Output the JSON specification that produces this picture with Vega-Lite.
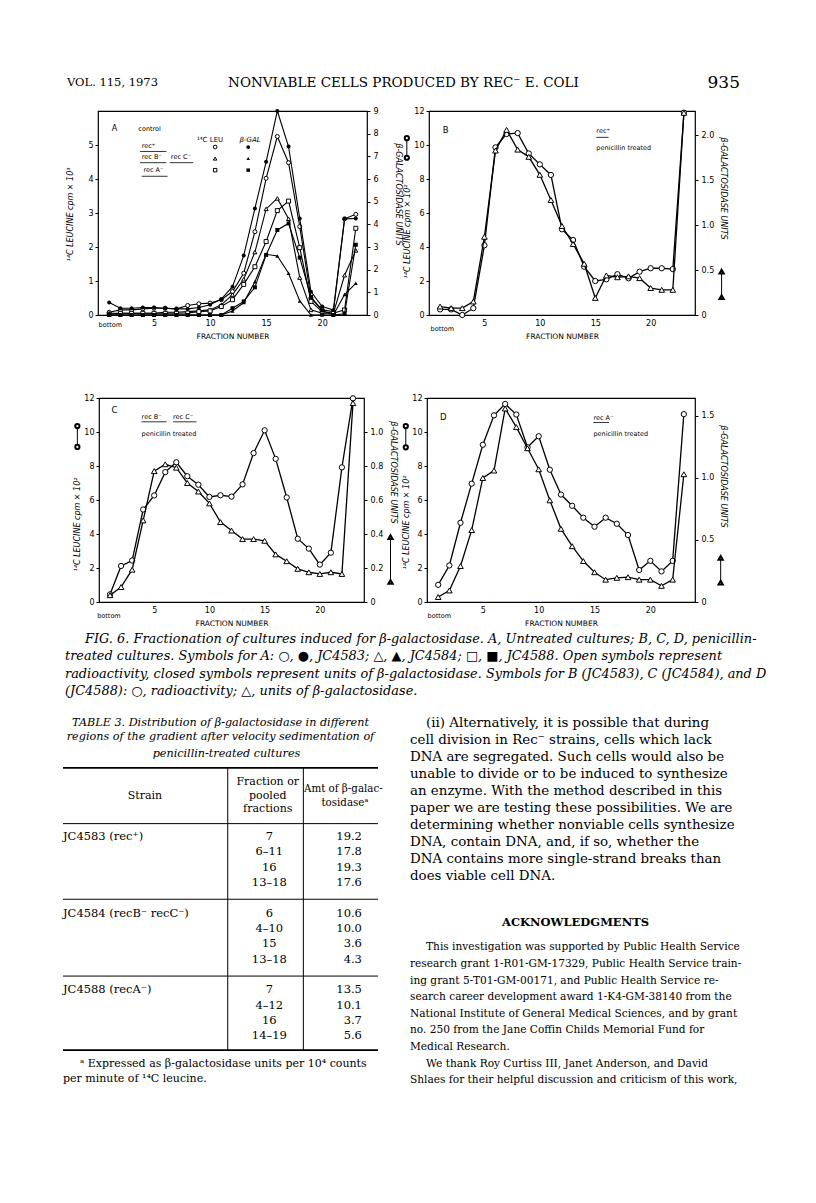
{
"$schema": "https://vega.github.io/schema/vega-lite/v6.json",
"autosize": {"type": "none"},
"padding": {"left": 0, "top": 0, "right": 816, "bottom": 1203},
"background": "white",
"spacing": 0,
"bounds": "full",
"config": {
  "view": {"stroke": null},
  "axis": {"grid": false, "domain": false, "tickColor": "black", "tickSize": 3, "tickWidth": 1, "tickCount": 20, "labelColor": "black", "labelFont": "DejaVu Sans", "labelFontSize": 8, "labelPadding": 2, "titleColor": "black", "titleFont": "DejaVu Sans", "titleFontSize": 8, "titleFontStyle": "italic", "titleFontWeight": "normal"},
  "text": {"color": "black", "font": "DejaVu Sans"}
},
"datasets": {
  "header": [
    {"part": "left", "t": "VOL. 115, 1973"},
    {"part": "center", "t": "NONVIABLE CELLS PRODUCED BY REC⁻ E. COLI"},
    {"part": "right", "t": "935"}
  ],
  "A": [
    {"fraction":1,"strain":"rec+","leu":0.08,"gal":0.55},{"fraction":2,"strain":"rec+","leu":0.15,"gal":0.3},{"fraction":3,"strain":"rec+","leu":0.15,"gal":0.3},{"fraction":4,"strain":"rec+","leu":0.18,"gal":0.33},{"fraction":5,"strain":"rec+","leu":0.2,"gal":0.33},{"fraction":6,"strain":"rec+","leu":0.2,"gal":0.3},{"fraction":7,"strain":"rec+","leu":0.18,"gal":0.27},{"fraction":8,"strain":"rec+","leu":0.28,"gal":0.27},{"fraction":9,"strain":"rec+","leu":0.33,"gal":0.33},{"fraction":10,"strain":"rec+","leu":0.35,"gal":0.45},{"fraction":11,"strain":"rec+","leu":0.45,"gal":0.7},{"fraction":12,"strain":"rec+","leu":0.69,"gal":1.25},{"fraction":13,"strain":"rec+","leu":1.23,"gal":2.62},{"fraction":14,"strain":"rec+","leu":2.45,"gal":4.7},{"fraction":15,"strain":"rec+","leu":4.02,"gal":6.76},{"fraction":16,"strain":"rec+","leu":5.25,"gal":9.0},{"fraction":17,"strain":"rec+","leu":4.48,"gal":7.43},{"fraction":18,"strain":"rec+","leu":2.6,"gal":4.26},{"fraction":19,"strain":"rec+","leu":0.5,"gal":1.03},{"fraction":20,"strain":"rec+","leu":0.15,"gal":0.37},{"fraction":21,"strain":"rec+","leu":0.1,"gal":0.22},{"fraction":22,"strain":"rec+","leu":2.83,"gal":4.24},{"fraction":23,"strain":"rec+","leu":2.96,"gal":4.26},
    {"fraction":1,"strain":"recB recC","leu":0.05,"gal":0},{"fraction":2,"strain":"recB recC","leu":0.05,"gal":0},{"fraction":3,"strain":"recB recC","leu":0.05,"gal":0},{"fraction":4,"strain":"recB recC","leu":0.05,"gal":0},{"fraction":5,"strain":"recB recC","leu":0.05,"gal":0},{"fraction":6,"strain":"recB recC","leu":0.08,"gal":0},{"fraction":7,"strain":"recB recC","leu":0.08,"gal":0},{"fraction":8,"strain":"recB recC","leu":0.1,"gal":0},{"fraction":9,"strain":"recB recC","leu":0.12,"gal":0},{"fraction":10,"strain":"recB recC","leu":0.15,"gal":0},{"fraction":11,"strain":"recB recC","leu":0.3,"gal":0},{"fraction":12,"strain":"recB recC","leu":0.6,"gal":0.18},{"fraction":13,"strain":"recB recC","leu":1.05,"gal":0.55},{"fraction":14,"strain":"recB recC","leu":1.85,"gal":1.47},{"fraction":15,"strain":"recB recC","leu":3.12,"gal":2.68},{"fraction":16,"strain":"recB recC","leu":3.43,"gal":2.6},{"fraction":17,"strain":"recB recC","leu":2.83,"gal":1.84},{"fraction":18,"strain":"recB recC","leu":1.1,"gal":0.62},{"fraction":19,"strain":"recB recC","leu":0.15,"gal":0},{"fraction":20,"strain":"recB recC","leu":0.05,"gal":0},{"fraction":21,"strain":"recB recC","leu":0.05,"gal":0},{"fraction":22,"strain":"recB recC","leu":1.17,"gal":0.9},{"fraction":23,"strain":"recB recC","leu":1.9,"gal":1.4},
    {"fraction":1,"strain":"recA","leu":0.02,"gal":0},{"fraction":2,"strain":"recA","leu":0.05,"gal":0},{"fraction":3,"strain":"recA","leu":0.05,"gal":0},{"fraction":4,"strain":"recA","leu":0.05,"gal":0},{"fraction":5,"strain":"recA","leu":0.05,"gal":0},{"fraction":6,"strain":"recA","leu":0.05,"gal":0},{"fraction":7,"strain":"recA","leu":0.05,"gal":0},{"fraction":8,"strain":"recA","leu":0.06,"gal":0},{"fraction":9,"strain":"recA","leu":0.1,"gal":0},{"fraction":10,"strain":"recA","leu":0.12,"gal":0},{"fraction":11,"strain":"recA","leu":0.25,"gal":0},{"fraction":12,"strain":"recA","leu":0.45,"gal":0.3},{"fraction":13,"strain":"recA","leu":0.9,"gal":0.6},{"fraction":14,"strain":"recA","leu":1.42,"gal":1.22},{"fraction":15,"strain":"recA","leu":2.16,"gal":2.65},{"fraction":16,"strain":"recA","leu":3.07,"gal":3.75},{"fraction":17,"strain":"recA","leu":3.35,"gal":4.04},{"fraction":18,"strain":"recA","leu":1.98,"gal":2.53},{"fraction":19,"strain":"recA","leu":0.4,"gal":0.8},{"fraction":20,"strain":"recA","leu":0.1,"gal":0.2},{"fraction":21,"strain":"recA","leu":0.05,"gal":0},{"fraction":22,"strain":"recA","leu":0.15,"gal":0.05},{"fraction":23,"strain":"recA","leu":2.55,"gal":3.1}
  ],
  "B": [
    {"fraction":1,"cpm":0.33,"units":0.094},{"fraction":2,"cpm":0.33,"units":0.076},{"fraction":3,"cpm":0.0,"units":0.076},{"fraction":4,"cpm":0.4,"units":0.15},{"fraction":5,"cpm":4.1,"units":0.87},{"fraction":6,"cpm":9.86,"units":1.83},{"fraction":7,"cpm":10.65,"units":2.06},{"fraction":8,"cpm":10.7,"units":1.84},{"fraction":9,"cpm":9.5,"units":1.76},{"fraction":10,"cpm":8.86,"units":1.56},{"fraction":11,"cpm":8.24,"units":1.28},{"fraction":12,"cpm":5.04,"units":0.99},{"fraction":13,"cpm":4.41,"units":0.79},{"fraction":14,"cpm":2.84,"units":0.57},{"fraction":15,"cpm":2.0,"units":0.19},{"fraction":16,"cpm":2.1,"units":0.44},{"fraction":17,"cpm":2.4,"units":0.42},{"fraction":18,"cpm":2.16,"units":0.43},{"fraction":19,"cpm":2.55,"units":0.41},{"fraction":20,"cpm":2.75,"units":0.30},{"fraction":21,"cpm":2.75,"units":0.28},{"fraction":22,"cpm":2.7,"units":0.28},{"fraction":23,"cpm":11.9,"units":2.25}
  ],
  "C": [
    {"fraction":1,"cpm":0.45,"units":0.04},{"fraction":2,"cpm":2.12,"units":0.088},{"fraction":3,"cpm":2.44,"units":0.19},{"fraction":4,"cpm":5.44,"units":0.48},{"fraction":5,"cpm":6.27,"units":0.77},{"fraction":6,"cpm":7.64,"units":0.81},{"fraction":7,"cpm":8.22,"units":0.79},{"fraction":8,"cpm":7.4,"units":0.70},{"fraction":9,"cpm":6.9,"units":0.65},{"fraction":10,"cpm":6.18,"units":0.58},{"fraction":11,"cpm":6.28,"units":0.47},{"fraction":12,"cpm":6.2,"units":0.42},{"fraction":13,"cpm":6.92,"units":0.37},{"fraction":14,"cpm":8.76,"units":0.37},{"fraction":15,"cpm":10.1,"units":0.36},{"fraction":16,"cpm":8.42,"units":0.28},{"fraction":17,"cpm":6.15,"units":0.24},{"fraction":18,"cpm":3.72,"units":0.195},{"fraction":19,"cpm":3.14,"units":0.175},{"fraction":20,"cpm":2.2,"units":0.165},{"fraction":21,"cpm":2.9,"units":0.175},{"fraction":22,"cpm":7.92,"units":0.165},{"fraction":23,"cpm":11.98,"units":1.17}
  ],
  "D": [
    {"fraction":1,"cpm":1.01,"units":0.04},{"fraction":2,"cpm":2.15,"units":0.093},{"fraction":3,"cpm":4.66,"units":0.29},{"fraction":4,"cpm":6.96,"units":0.58},{"fraction":5,"cpm":9.25,"units":1.0},{"fraction":6,"cpm":10.98,"units":1.06},{"fraction":7,"cpm":11.65,"units":1.56},{"fraction":8,"cpm":11.03,"units":1.41},{"fraction":9,"cpm":9.1,"units":1.24},{"fraction":10,"cpm":9.75,"units":1.07},{"fraction":11,"cpm":7.78,"units":0.82},{"fraction":12,"cpm":6.32,"units":0.59},{"fraction":13,"cpm":5.66,"units":0.45},{"fraction":14,"cpm":4.96,"units":0.33},{"fraction":15,"cpm":4.43,"units":0.24},{"fraction":16,"cpm":4.96,"units":0.18},{"fraction":17,"cpm":4.6,"units":0.195},{"fraction":18,"cpm":3.94,"units":0.20},{"fraction":19,"cpm":1.88,"units":0.18},{"fraction":20,"cpm":2.42,"units":0.18},{"fraction":21,"cpm":1.8,"units":0.13},{"fraction":22,"cpm":2.42,"units":0.18},{"fraction":23,"cpm":11.05,"units":1.03}
  ],
  "table3": [
    {"strain":"JC4583 (rec⁺)","fraction":"7","amount":19.2,"row":0},
    {"strain":"","fraction":"6–11","amount":17.8,"row":1},
    {"strain":"","fraction":"16","amount":19.3,"row":2},
    {"strain":"","fraction":"13–18","amount":17.6,"row":3},
    {"strain":"JC4584 (recB⁻ recC⁻)","fraction":"6","amount":10.6,"row":5},
    {"strain":"","fraction":"4–10","amount":10.0,"row":6},
    {"strain":"","fraction":"15","amount":3.6,"row":7},
    {"strain":"","fraction":"13–18","amount":4.3,"row":8},
    {"strain":"JC4588 (recA⁻)","fraction":"7","amount":13.5,"row":10},
    {"strain":"","fraction":"4–12","amount":10.1,"row":11},
    {"strain":"","fraction":"16","amount":3.7,"row":12},
    {"strain":"","fraction":"14–19","amount":5.6,"row":13}
  ],
  "caption": [
    {"line":1,"indent":true,"text":"FIG. 6. Fractionation of cultures induced for β-galactosidase. A, Untreated cultures; B, C, D, penicillin-"},
    {"line":2,"indent":false,"text":"treated cultures. Symbols for A: ○, ●, JC4583; △, ▲, JC4584; □, ■, JC4588. Open symbols represent"},
    {"line":3,"indent":false,"text":"radioactivity, closed symbols represent units of β-galactosidase. Symbols for B (JC4583), C (JC4584), and D"},
    {"line":4,"indent":false,"text":"(JC4588): ○, radioactivity; △, units of β-galactosidase."}
  ],
  "para": [
    {"line":1,"indent":true,"text":"(ii) Alternatively, it is possible that during"},
    {"line":2,"indent":false,"text":"cell division in Rec⁻ strains, cells which lack"},
    {"line":3,"indent":false,"text":"DNA are segregated. Such cells would also be"},
    {"line":4,"indent":false,"text":"unable to divide or to be induced to synthesize"},
    {"line":5,"indent":false,"text":"an enzyme. With the method described in this"},
    {"line":6,"indent":false,"text":"paper we are testing these possibilities. We are"},
    {"line":7,"indent":false,"text":"determining whether nonviable cells synthesize"},
    {"line":8,"indent":false,"text":"DNA, contain DNA, and, if so, whether the"},
    {"line":9,"indent":false,"text":"DNA contains more single-strand breaks than"},
    {"line":10,"indent":false,"text":"does viable cell DNA."}
  ],
  "ack": [
    {"line":1,"indent":true,"text":"This investigation was supported by Public Health Service"},
    {"line":2,"indent":false,"text":"research grant 1-R01-GM-17329, Public Health Service train-"},
    {"line":3,"indent":false,"text":"ing grant 5-T01-GM-00171, and Public Health Service re-"},
    {"line":4,"indent":false,"text":"search career development award 1-K4-GM-38140 from the"},
    {"line":5,"indent":false,"text":"National Institute of General Medical Sciences, and by grant"},
    {"line":6,"indent":false,"text":"no. 250 from the Jane Coffin Childs Memorial Fund for"},
    {"line":7,"indent":false,"text":"Medical Research."},
    {"line":8,"indent":true,"text":"We thank Roy Curtiss III, Janet Anderson, and David"},
    {"line":9,"indent":false,"text":"Shlaes for their helpful discussion and criticism of this work,"}
  ]
},
"vconcat": [
  {"width": 1, "height": 70, "data": {"values": []}, "mark": "point"},
  {"hconcat": [
    {"width": 67, "height": 36, "data": {"values": []}, "mark": "point"},
    {"width": 673, "height": 26, "data": {"name": "header"}, "layer": [
      {"transform": [{"filter": "datum.part == 'left'"}], "mark": {"type": "text", "align": "left", "x": 0, "font": "DejaVu Serif", "fontSize": 11.5}, "encoding": {"text": {"field": "t"}}},
      {"transform": [{"filter": "datum.part == 'center'"}], "mark": {"type": "text", "align": "center", "font": "DejaVu Serif", "fontSize": 13.5}, "encoding": {"text": {"field": "t"}}},
      {"transform": [{"filter": "datum.part == 'right'"}], "mark": {"type": "text", "align": "right", "x": "width", "font": "DejaVu Serif", "fontSize": 17}, "encoding": {"text": {"field": "t"}}}
    ]}
  ], "spacing": 0, "bounds": "flush"},
  {"hconcat": [
    {"width": 98, "height": 282, "data": {"values": []}, "mark": "point"},
    {"width": 269, "height": 204, "view": {"stroke": "black", "strokeWidth": 1.2},
     "layer": [
      {"layer": [
        {"data": {"name": "A"}, "mark": {"type": "line", "color": "black", "strokeWidth": 1.1},
         "encoding": {
           "x": {"field": "fraction", "type": "quantitative", "scale": {"domain": [0, 24], "nice": false, "zero": false}, "axis": {"values": [5, 10, 15, 20], "format": "d", "title": "FRACTION  NUMBER", "tickSize": 0, "labelPadding": 4, "titleFontStyle": "normal", "titleFontSize": 7.5, "titleY": 21, "titleBaseline": "middle"}},
           "y": {"field": "leu", "type": "quantitative", "scale": {"domain": [0, 6], "nice": false, "zero": false}, "axis": {"orient": "left", "values": [0, 1, 2, 3, 4, 5], "format": "d", "title": "¹⁴C LEUCINE cpm × 10³", "titleX": -28, "titleY": 103, "titleBaseline": "middle", "titleAlign": "center"}},
           "detail": {"field": "strain"}}},
        {"data": {"name": "A"}, "mark": {"type": "point", "filled": true, "fill": "white", "stroke": "black", "strokeWidth": 1, "size": 16, "opacity": 1},
         "encoding": {
           "x": {"field": "fraction", "type": "quantitative"},
           "y": {"field": "leu", "type": "quantitative"},
           "shape": {"field": "strain", "type": "nominal", "scale": {"domain": ["rec+", "recB recC", "recA"], "range": ["circle", "triangle-up", "square"]}, "legend": null}}},
        {"data": {"values": [{}]}, "mark": {"type": "text", "text": "A", "fontSize": 8}, "encoding": {"x": {"datum": 1.46}, "y": {"datum": 5.48}}},
        {"data": {"values": [{}]}, "mark": {"type": "text", "text": "control", "fontSize": 6.5, "align": "left"}, "encoding": {"x": {"datum": 3.6}, "y": {"datum": 5.48}}},
        {"data": {"values": [{}]}, "mark": {"type": "text", "text": "¹⁴C LEU", "fontSize": 7}, "encoding": {"x": {"datum": 10.0}, "y": {"datum": 5.14}}},
        {"data": {"values": [{}]}, "mark": {"type": "text", "text": "β-GAL", "fontSize": 7, "fontStyle": "italic"}, "encoding": {"x": {"datum": 13.57}, "y": {"datum": 5.14}}},
        {"data": {"values": [{}]}, "mark": {"type": "text", "text": "rec⁺", "fontSize": 6.5, "align": "left"}, "encoding": {"x": {"datum": 3.9}, "y": {"datum": 4.96}}},
        {"data": {"values": [{}]}, "mark": {"type": "text", "text": "rec B⁻", "fontSize": 6.5, "align": "left"}, "encoding": {"x": {"datum": 3.9}, "y": {"datum": 4.64}}},
        {"data": {"values": [{}]}, "mark": {"type": "text", "text": "rec C⁻", "fontSize": 6.5, "align": "left"}, "encoding": {"x": {"datum": 6.5}, "y": {"datum": 4.64}}},
        {"data": {"values": [{}]}, "mark": {"type": "text", "text": "rec A⁻", "fontSize": 6.5, "align": "left"}, "encoding": {"x": {"datum": 4.05}, "y": {"datum": 4.26}}},
        {"data": {"values": [{}]}, "mark": {"type": "rule", "color": "black", "strokeWidth": 0.8}, "encoding": {"x": {"datum": 3.75}, "x2": {"datum": 6.1}, "y": {"datum": 4.81}}},
        {"data": {"values": [{}]}, "mark": {"type": "rule", "color": "black", "strokeWidth": 0.8}, "encoding": {"x": {"datum": 3.75}, "x2": {"datum": 6.1}, "y": {"datum": 4.48}}},
        {"data": {"values": [{}]}, "mark": {"type": "rule", "color": "black", "strokeWidth": 0.8}, "encoding": {"x": {"datum": 6.4}, "x2": {"datum": 8.5}, "y": {"datum": 4.48}}},
        {"data": {"values": [{}]}, "mark": {"type": "rule", "color": "black", "strokeWidth": 0.8}, "encoding": {"x": {"datum": 3.9}, "x2": {"datum": 6.2}, "y": {"datum": 4.08}}},
        {"data": {"values": [{}]}, "mark": {"type": "point", "shape": "circle", "filled": true, "fill": "white", "stroke": "black", "strokeWidth": 1, "size": 14, "opacity": 1}, "encoding": {"x": {"datum": 10.45}, "y": {"datum": 4.94}}},
        {"data": {"values": [{}]}, "mark": {"type": "point", "shape": "triangle-up", "filled": true, "fill": "white", "stroke": "black", "strokeWidth": 1, "size": 12, "opacity": 1}, "encoding": {"x": {"datum": 10.45}, "y": {"datum": 4.6}}},
        {"data": {"values": [{}]}, "mark": {"type": "point", "shape": "square", "filled": true, "fill": "white", "stroke": "black", "strokeWidth": 1, "size": 12, "opacity": 1}, "encoding": {"x": {"datum": 10.45}, "y": {"datum": 4.26}}},
        {"data": {"values": [{}]}, "mark": {"type": "point", "shape": "circle", "filled": true, "color": "black", "size": 14, "opacity": 1}, "encoding": {"x": {"datum": 13.4}, "y": {"datum": 4.94}}},
        {"data": {"values": [{}]}, "mark": {"type": "point", "shape": "triangle-up", "filled": true, "color": "black", "size": 12, "opacity": 1}, "encoding": {"x": {"datum": 13.4}, "y": {"datum": 4.6}}},
        {"data": {"values": [{}]}, "mark": {"type": "point", "shape": "square", "filled": true, "color": "black", "size": 12, "opacity": 1}, "encoding": {"x": {"datum": 13.4}, "y": {"datum": 4.26}}},
        {"data": {"values": [{}]}, "mark": {"type": "text", "text": "bottom", "fontSize": 6.5}, "encoding": {"x": {"datum": 1.1}, "y": {"datum": -0.3}}}
      ]},
      {"layer": [
        {"data": {"name": "A"}, "mark": {"type": "line", "color": "black", "strokeWidth": 1.1},
         "encoding": {
           "x": {"field": "fraction", "type": "quantitative"},
           "y": {"field": "gal", "type": "quantitative", "scale": {"domain": [0, 9], "nice": false, "zero": false}, "axis": {"orient": "right", "values": [0, 1, 2, 3, 4, 5, 6, 7, 8, 9], "format": "d", "labelPadding": 3, "title": "β-GALACTOSIDASE UNITS", "titleX": 30, "titleY": 83, "titleBaseline": "middle", "titleAlign": "center"}},
           "detail": {"field": "strain"}}},
        {"data": {"name": "A"}, "mark": {"type": "point", "filled": true, "color": "black", "size": 16, "opacity": 1},
         "encoding": {
           "x": {"field": "fraction", "type": "quantitative"},
           "y": {"field": "gal", "type": "quantitative"},
           "shape": {"field": "strain", "type": "nominal", "legend": null}}}
      ]}
     ],
     "resolve": {"scale": {"y": "independent"}}
    },
    {"width": 62, "height": 1, "data": {"values": []}, "mark": "point"},
    {"width": 266, "height": 204, "view": {"stroke": "black", "strokeWidth": 1.2},
     "layer": [
      {"layer": [
        {"data": {"name": "B"}, "mark": {"type": "line", "color": "black", "strokeWidth": 1.3},
         "encoding": {
           "x": {"field": "fraction", "type": "quantitative", "scale": {"domain": [0, 24], "nice": false, "zero": false}, "axis": {"values": [5, 10, 15, 20], "format": "d", "title": "FRACTION  NUMBER", "tickSize": 0, "labelPadding": 4, "titleFontStyle": "normal", "titleFontSize": 7.5, "titleY": 21, "titleBaseline": "middle"}},
           "y": {"field": "cpm", "type": "quantitative", "scale": {"domain": [0, 12], "nice": false, "zero": false}, "axis": {"orient": "left", "values": [0, 2, 4, 6, 8, 10, 12], "format": "d", "title": "¹⁴C LEUCINE cpm × 10²", "titleX": -22, "titleY": 120, "titleBaseline": "middle", "titleAlign": "center"}}}},
        {"data": {"name": "B"}, "mark": {"type": "point", "shape": "circle", "filled": true, "fill": "white", "stroke": "black", "strokeWidth": 1, "size": 28, "opacity": 1},
         "encoding": {"x": {"field": "fraction", "type": "quantitative"}, "y": {"field": "cpm", "type": "quantitative"}}},
        {"data": {"values": [{}]}, "mark": {"type": "text", "text": "B", "fontSize": 8.5}, "encoding": {"x": {"datum": 1.5}, "y": {"datum": 10.9}}},
        {"data": {"values": [{}]}, "mark": {"type": "text", "text": "rec⁺", "fontSize": 6.5, "align": "left"}, "encoding": {"x": {"datum": 15.1}, "y": {"datum": 10.8}}},
        {"data": {"values": [{}]}, "mark": {"type": "rule", "color": "black", "strokeWidth": 0.8}, "encoding": {"x": {"datum": 15.1}, "x2": {"datum": 16.2}, "y": {"datum": 10.45}}},
        {"data": {"values": [{}]}, "mark": {"type": "text", "text": "penicillin treated", "fontSize": 6.5, "align": "left"}, "encoding": {"x": {"datum": 15.1}, "y": {"datum": 9.8}}},
        {"data": {"values": [{}]}, "mark": {"type": "text", "text": "bottom", "fontSize": 6.5}, "encoding": {"x": {"datum": 1.2}, "y": {"datum": -0.82}}},
        {"data": {"values": [{}]}, "mark": {"type": "rule", "color": "black", "strokeWidth": 1}, "encoding": {"x": {"datum": -2.0}, "y": {"datum": 10.4}, "y2": {"datum": 9.25}}},
        {"data": {"values": [{}]}, "mark": {"type": "point", "shape": "circle", "filled": true, "fill": "white", "stroke": "black", "size": 18, "opacity": 1}, "encoding": {"x": {"datum": -2.0}, "y": {"datum": 10.4}}},
        {"data": {"values": [{}]}, "mark": {"type": "point", "shape": "circle", "filled": true, "fill": "white", "stroke": "black", "size": 18, "opacity": 1}, "encoding": {"x": {"datum": -2.0}, "y": {"datum": 9.25}}},
        {"data": {"values": [{}]}, "mark": {"type": "rule", "color": "black", "strokeWidth": 1}, "encoding": {"x": {"datum": 26.4}, "y": {"datum": 2.55}, "y2": {"datum": 1.05}}},
        {"data": {"values": [{}]}, "mark": {"type": "point", "shape": "triangle-up", "filled": true, "fill": "white", "stroke": "black", "size": 18, "opacity": 1}, "encoding": {"x": {"datum": 26.4}, "y": {"datum": 2.55}}},
        {"data": {"values": [{}]}, "mark": {"type": "point", "shape": "triangle-up", "filled": true, "fill": "white", "stroke": "black", "size": 18, "opacity": 1}, "encoding": {"x": {"datum": 26.4}, "y": {"datum": 1.05}}}
      ]},
      {"layer": [
        {"data": {"name": "B"}, "mark": {"type": "line", "color": "black", "strokeWidth": 1.3},
         "encoding": {
           "x": {"field": "fraction", "type": "quantitative"},
           "y": {"field": "units", "type": "quantitative", "scale": {"domain": [0, 2.27], "nice": false, "zero": false}, "axis": {"orient": "right", "values": [0, 0.5, 1, 1.5, 2], "labelExpr": "datum.value == 0 ? '0' : format(datum.value, '.1f')", "labelPadding": 3, "title": "β-GALACTOSIDASE UNITS", "titleX": 27, "titleY": 77, "titleBaseline": "middle", "titleAlign": "center"}}}},
        {"data": {"name": "B"}, "mark": {"type": "point", "shape": "triangle-up", "filled": true, "fill": "white", "stroke": "black", "strokeWidth": 1, "size": 32, "opacity": 1},
         "encoding": {"x": {"field": "fraction", "type": "quantitative"}, "y": {"field": "units", "type": "quantitative"}}}
      ]}
     ],
     "resolve": {"scale": {"y": "independent"}}
    }
  ], "spacing": 0, "bounds": "flush"},
  {"hconcat": [
    {"width": 99, "height": 232, "data": {"values": []}, "mark": "point"},
    {"width": 265, "height": 204, "view": {"stroke": "black", "strokeWidth": 1.2},
     "layer": [
      {"layer": [
        {"data": {"name": "C"}, "mark": {"type": "line", "color": "black", "strokeWidth": 1.3},
         "encoding": {
           "x": {"field": "fraction", "type": "quantitative", "scale": {"domain": [0, 24], "nice": false, "zero": false}, "axis": {"values": [5, 10, 15, 20], "format": "d", "title": "FRACTION  NUMBER", "tickSize": 0, "labelPadding": 4, "titleFontStyle": "normal", "titleFontSize": 7.5, "titleY": 21, "titleBaseline": "middle"}},
           "y": {"field": "cpm", "type": "quantitative", "scale": {"domain": [0, 12], "nice": false, "zero": false}, "axis": {"orient": "left", "values": [0, 2, 4, 6, 8, 10, 12], "format": "d", "title": "¹⁴C LEUCINE cpm × 10²", "titleX": -22, "titleY": 126, "titleBaseline": "middle", "titleAlign": "center"}}}},
        {"data": {"name": "C"}, "mark": {"type": "point", "shape": "circle", "filled": true, "fill": "white", "stroke": "black", "strokeWidth": 1, "size": 28, "opacity": 1},
         "encoding": {"x": {"field": "fraction", "type": "quantitative"}, "y": {"field": "cpm", "type": "quantitative"}}},
        {"data": {"values": [{}]}, "mark": {"type": "text", "text": "C", "fontSize": 8.5}, "encoding": {"x": {"datum": 1.39}, "y": {"datum": 11.28}}},
        {"data": {"values": [{}]}, "mark": {"type": "text", "text": "rec B⁻", "fontSize": 6.5, "align": "left"}, "encoding": {"x": {"datum": 3.86}, "y": {"datum": 10.9}}},
        {"data": {"values": [{}]}, "mark": {"type": "text", "text": "rec C⁻", "fontSize": 6.5, "align": "left"}, "encoding": {"x": {"datum": 6.71}, "y": {"datum": 10.9}}},
        {"data": {"values": [{}]}, "mark": {"type": "rule", "color": "black", "strokeWidth": 0.8}, "encoding": {"x": {"datum": 3.86}, "x2": {"datum": 6.13}, "y": {"datum": 10.6}}},
        {"data": {"values": [{}]}, "mark": {"type": "rule", "color": "black", "strokeWidth": 0.8}, "encoding": {"x": {"datum": 6.71}, "x2": {"datum": 8.83}, "y": {"datum": 10.6}}},
        {"data": {"values": [{}]}, "mark": {"type": "text", "text": "penicillin treated", "fontSize": 6.5, "align": "left"}, "encoding": {"x": {"datum": 3.86}, "y": {"datum": 9.86}}},
        {"data": {"values": [{}]}, "mark": {"type": "text", "text": "bottom", "fontSize": 6.5}, "encoding": {"x": {"datum": 0.9}, "y": {"datum": -0.8}}},
        {"data": {"values": [{}]}, "mark": {"type": "rule", "color": "black", "strokeWidth": 1}, "encoding": {"x": {"datum": -1.96}, "y": {"datum": 10.35}, "y2": {"datum": 9.12}}},
        {"data": {"values": [{}]}, "mark": {"type": "point", "shape": "circle", "filled": true, "fill": "white", "stroke": "black", "size": 18, "opacity": 1}, "encoding": {"x": {"datum": -1.96}, "y": {"datum": 10.35}}},
        {"data": {"values": [{}]}, "mark": {"type": "point", "shape": "circle", "filled": true, "fill": "white", "stroke": "black", "size": 18, "opacity": 1}, "encoding": {"x": {"datum": -1.96}, "y": {"datum": 9.12}}},
        {"data": {"values": [{}]}, "mark": {"type": "rule", "color": "black", "strokeWidth": 1}, "encoding": {"x": {"datum": 26.4}, "y": {"datum": 3.82}, "y2": {"datum": 1.18}}},
        {"data": {"values": [{}]}, "mark": {"type": "point", "shape": "triangle-up", "filled": true, "fill": "white", "stroke": "black", "size": 18, "opacity": 1}, "encoding": {"x": {"datum": 26.4}, "y": {"datum": 3.82}}},
        {"data": {"values": [{}]}, "mark": {"type": "point", "shape": "triangle-up", "filled": true, "fill": "white", "stroke": "black", "size": 18, "opacity": 1}, "encoding": {"x": {"datum": 26.4}, "y": {"datum": 1.18}}}
      ]},
      {"layer": [
        {"data": {"name": "C"}, "mark": {"type": "line", "color": "black", "strokeWidth": 1.3},
         "encoding": {
           "x": {"field": "fraction", "type": "quantitative"},
           "y": {"field": "units", "type": "quantitative", "scale": {"domain": [0, 1.2], "nice": false, "zero": false}, "axis": {"orient": "right", "values": [0, 0.2, 0.4, 0.6, 0.8, 1.0], "labelExpr": "datum.value == 0 ? '0' : format(datum.value, '.1f')", "labelPadding": 3, "title": "β-GALACTOSIDASE UNITS", "titleX": 28, "titleY": 74, "titleBaseline": "middle", "titleAlign": "center"}}}},
        {"data": {"name": "C"}, "mark": {"type": "point", "shape": "triangle-up", "filled": true, "fill": "white", "stroke": "black", "strokeWidth": 1, "size": 32, "opacity": 1},
         "encoding": {"x": {"field": "fraction", "type": "quantitative"}, "y": {"field": "units", "type": "quantitative"}}}
      ]}
     ],
     "resolve": {"scale": {"y": "independent"}}
    },
    {"width": 63, "height": 1, "data": {"values": []}, "mark": "point"},
    {"width": 268, "height": 204, "view": {"stroke": "black", "strokeWidth": 1.2},
     "layer": [
      {"layer": [
        {"data": {"name": "D"}, "mark": {"type": "line", "color": "black", "strokeWidth": 1.3},
         "encoding": {
           "x": {"field": "fraction", "type": "quantitative", "scale": {"domain": [0, 24], "nice": false, "zero": false}, "axis": {"values": [5, 10, 15, 20], "format": "d", "title": "FRACTION  NUMBER", "tickSize": 0, "labelPadding": 4, "titleFontStyle": "normal", "titleFontSize": 7.5, "titleY": 21, "titleBaseline": "middle"}},
           "y": {"field": "cpm", "type": "quantitative", "scale": {"domain": [0, 12], "nice": false, "zero": false}, "axis": {"orient": "left", "values": [0, 2, 4, 6, 8, 10, 12], "format": "d", "title": "¹⁴C LEUCINE cpm × 10²", "titleX": -21, "titleY": 124, "titleBaseline": "middle", "titleAlign": "center"}}}},
        {"data": {"name": "D"}, "mark": {"type": "point", "shape": "circle", "filled": true, "fill": "white", "stroke": "black", "strokeWidth": 1, "size": 28, "opacity": 1},
         "encoding": {"x": {"field": "fraction", "type": "quantitative"}, "y": {"field": "cpm", "type": "quantitative"}}},
        {"data": {"values": [{}]}, "mark": {"type": "text", "text": "D", "fontSize": 8.5}, "encoding": {"x": {"datum": 1.46}, "y": {"datum": 10.9}}},
        {"data": {"values": [{}]}, "mark": {"type": "text", "text": "rec A⁻", "fontSize": 6.5, "align": "left"}, "encoding": {"x": {"datum": 14.9}, "y": {"datum": 10.85}}},
        {"data": {"values": [{}]}, "mark": {"type": "rule", "color": "black", "strokeWidth": 0.8}, "encoding": {"x": {"datum": 14.9}, "x2": {"datum": 16.3}, "y": {"datum": 10.56}}},
        {"data": {"values": [{}]}, "mark": {"type": "text", "text": "penicillin treated", "fontSize": 6.5, "align": "left"}, "encoding": {"x": {"datum": 14.9}, "y": {"datum": 9.86}}},
        {"data": {"values": [{}]}, "mark": {"type": "text", "text": "bottom", "fontSize": 6.5}, "encoding": {"x": {"datum": 1.1}, "y": {"datum": -0.8}}},
        {"data": {"values": [{}]}, "mark": {"type": "rule", "color": "black", "strokeWidth": 1}, "encoding": {"x": {"datum": -1.9}, "y": {"datum": 10.35}, "y2": {"datum": 9.1}}},
        {"data": {"values": [{}]}, "mark": {"type": "point", "shape": "circle", "filled": true, "fill": "white", "stroke": "black", "size": 18, "opacity": 1}, "encoding": {"x": {"datum": -1.9}, "y": {"datum": 10.35}}},
        {"data": {"values": [{}]}, "mark": {"type": "point", "shape": "circle", "filled": true, "fill": "white", "stroke": "black", "size": 18, "opacity": 1}, "encoding": {"x": {"datum": -1.9}, "y": {"datum": 9.1}}},
        {"data": {"values": [{}]}, "mark": {"type": "rule", "color": "black", "strokeWidth": 1}, "encoding": {"x": {"datum": 26.3}, "y": {"datum": 2.6}, "y2": {"datum": 1.14}}},
        {"data": {"values": [{}]}, "mark": {"type": "point", "shape": "triangle-up", "filled": true, "fill": "white", "stroke": "black", "size": 18, "opacity": 1}, "encoding": {"x": {"datum": 26.3}, "y": {"datum": 2.6}}},
        {"data": {"values": [{}]}, "mark": {"type": "point", "shape": "triangle-up", "filled": true, "fill": "white", "stroke": "black", "size": 18, "opacity": 1}, "encoding": {"x": {"datum": 26.3}, "y": {"datum": 1.14}}}
      ]},
      {"layer": [
        {"data": {"name": "D"}, "mark": {"type": "line", "color": "black", "strokeWidth": 1.3},
         "encoding": {
           "x": {"field": "fraction", "type": "quantitative"},
           "y": {"field": "units", "type": "quantitative", "scale": {"domain": [0, 1.645], "nice": false, "zero": false}, "axis": {"orient": "right", "values": [0, 0.5, 1, 1.5], "labelExpr": "datum.value == 0 ? '0' : format(datum.value, '.1f')", "labelPadding": 3, "title": "β-GALACTOSIDASE UNITS", "titleX": 27, "titleY": 78, "titleBaseline": "middle", "titleAlign": "center"}}}},
        {"data": {"name": "D"}, "mark": {"type": "point", "shape": "triangle-up", "filled": true, "fill": "white", "stroke": "black", "strokeWidth": 1, "size": 32, "opacity": 1},
         "encoding": {"x": {"field": "fraction", "type": "quantitative"}, "y": {"field": "units", "type": "quantitative"}}}
      ]}
     ],
     "resolve": {"scale": {"y": "independent"}}
    }
  ], "spacing": 0, "bounds": "flush"},
  {"hconcat": [
    {"width": 65, "height": 80, "data": {"values": []}, "mark": "point"},
    {"width": 700, "height": {"step": 17.4}, "data": {"name": "caption"},
     "encoding": {"y": {"field": "line", "type": "ordinal", "axis": null}, "text": {"field": "text"}},
     "layer": [
       {"transform": [{"filter": "!datum.indent"}], "mark": {"type": "text", "align": "left", "x": 0, "font": "DejaVu Serif", "fontSize": 12.9, "fontStyle": "italic"}},
       {"transform": [{"filter": "datum.indent"}], "mark": {"type": "text", "align": "left", "x": 0, "dx": 20, "font": "DejaVu Serif", "fontSize": 12.9, "fontStyle": "italic"}}
     ]}
  ], "spacing": 0, "bounds": "flush"},
  {"hconcat": [
    {"width": 63, "height": 400, "data": {"values": []}, "mark": "point"},
    {"width": 315, "height": 382,
     "layer": [
      {"data": {"name": "table3"}, "transform": [{"filter": "datum.strain != ''"}], "mark": {"type": "text", "align": "left", "font": "DejaVu Serif", "fontSize": 11.5},
       "encoding": {"x": {"datum": 0, "scale": {"domain": [0, 100], "nice": false, "zero": false}, "axis": null}, "y": {"field": "row", "type": "quantitative", "scale": {"domain": [-8.28, 16.63], "reverse": true, "nice": false, "zero": false}, "axis": null}, "text": {"field": "strain"}}},
      {"data": {"name": "table3"}, "mark": {"type": "text", "align": "center", "font": "DejaVu Serif", "fontSize": 11.5},
       "encoding": {"x": {"datum": 65.5, "axis": null}, "y": {"field": "row", "type": "quantitative", "axis": null}, "text": {"field": "fraction"}}},
      {"data": {"name": "table3"}, "mark": {"type": "text", "align": "right", "font": "DejaVu Serif", "fontSize": 11.5},
       "encoding": {"x": {"datum": 94.9, "axis": null}, "y": {"field": "row", "type": "quantitative", "axis": null}, "text": {"field": "amount", "format": ".1f"}}},
      {"data": {"values": [{}]}, "mark": {"type": "text", "text": "TABLE 3. Distribution of β-galactosidase in different", "font": "DejaVu Serif", "fontSize": 11.2, "fontStyle": "italic"}, "encoding": {"x": {"datum": 50, "axis": null}, "y": {"datum": -7.46, "axis": null}}},
      {"data": {"values": [{}]}, "mark": {"type": "text", "text": "regions of the gradient after velocity sedimentation of", "font": "DejaVu Serif", "fontSize": 11.2, "fontStyle": "italic"}, "encoding": {"x": {"datum": 50, "axis": null}, "y": {"datum": -6.52, "axis": null}}},
      {"data": {"values": [{}]}, "mark": {"type": "text", "text": "penicillin-treated cultures", "font": "DejaVu Serif", "fontSize": 11.2, "fontStyle": "italic"}, "encoding": {"x": {"datum": 51.9, "axis": null}, "y": {"datum": -5.43, "axis": null}}},
      {"data": {"values": [{}]}, "mark": {"type": "text", "text": "Strain", "font": "DejaVu Serif", "fontSize": 11}, "encoding": {"x": {"datum": 26, "axis": null}, "y": {"datum": -2.67, "axis": null}}},
      {"data": {"values": [{}]}, "mark": {"type": "text", "text": "Fraction or", "font": "DejaVu Serif", "fontSize": 11}, "encoding": {"x": {"datum": 65, "axis": null}, "y": {"datum": -3.59, "axis": null}}},
      {"data": {"values": [{}]}, "mark": {"type": "text", "text": "pooled", "font": "DejaVu Serif", "fontSize": 11}, "encoding": {"x": {"datum": 65, "axis": null}, "y": {"datum": -2.67, "axis": null}}},
      {"data": {"values": [{}]}, "mark": {"type": "text", "text": "fractions", "font": "DejaVu Serif", "fontSize": 11}, "encoding": {"x": {"datum": 65, "axis": null}, "y": {"datum": -1.83, "axis": null}}},
      {"data": {"values": [{}]}, "mark": {"type": "text", "text": "Amt of β-galac-", "font": "DejaVu Serif", "fontSize": 10.3}, "encoding": {"x": {"datum": 89, "axis": null}, "y": {"datum": -3.13, "axis": null}}},
      {"data": {"values": [{}]}, "mark": {"type": "text", "text": "tosidaseᵃ", "font": "DejaVu Serif", "fontSize": 10.3}, "encoding": {"x": {"datum": 89.5, "axis": null}, "y": {"datum": -2.24, "axis": null}}},
      {"data": {"values": [{}]}, "mark": {"type": "text", "text": "ᵃ Expressed as β-galactosidase units per 10⁴ counts", "align": "left", "font": "DejaVu Serif", "fontSize": 11}, "encoding": {"x": {"datum": 5.4, "axis": null}, "y": {"datum": 14.79, "axis": null}}},
      {"data": {"values": [{}]}, "mark": {"type": "text", "text": "per minute of ¹⁴C leucine.", "align": "left", "font": "DejaVu Serif", "fontSize": 11}, "encoding": {"x": {"datum": 0, "axis": null}, "y": {"datum": 15.79, "axis": null}}},
      {"data": {"values": [{}]}, "mark": {"type": "rule", "color": "black", "strokeWidth": 1.8}, "encoding": {"x": {"datum": 0, "axis": null}, "x2": {"datum": 100}, "y": {"datum": -4.5, "axis": null}}},
      {"data": {"values": [{}]}, "mark": {"type": "rule", "color": "black", "strokeWidth": 1}, "encoding": {"x": {"datum": 0, "axis": null}, "x2": {"datum": 100}, "y": {"datum": -0.87, "axis": null}}},
      {"data": {"values": [{}]}, "mark": {"type": "rule", "color": "black", "strokeWidth": 1}, "encoding": {"x": {"datum": 0, "axis": null}, "x2": {"datum": 100}, "y": {"datum": 4.06, "axis": null}}},
      {"data": {"values": [{}]}, "mark": {"type": "rule", "color": "black", "strokeWidth": 1}, "encoding": {"x": {"datum": 0, "axis": null}, "x2": {"datum": 100}, "y": {"datum": 9.07, "axis": null}}},
      {"data": {"values": [{}]}, "mark": {"type": "rule", "color": "black", "strokeWidth": 1.8}, "encoding": {"x": {"datum": 0, "axis": null}, "x2": {"datum": 100}, "y": {"datum": 13.9, "axis": null}}},
      {"data": {"values": [{}]}, "mark": {"type": "rule", "color": "black", "strokeWidth": 1}, "encoding": {"x": {"datum": 52.3, "axis": null}, "y": {"datum": -4.5, "axis": null}, "y2": {"datum": 13.9}}},
      {"data": {"values": [{}]}, "mark": {"type": "rule", "color": "black", "strokeWidth": 1}, "encoding": {"x": {"datum": 76.3, "axis": null}, "y": {"datum": -4.5, "axis": null}, "y2": {"datum": 13.9}}}
     ]
    },
    {"width": 32, "height": 1, "data": {"values": []}, "mark": "point"},
    {"vconcat": [
      {"width": 1, "height": 5, "data": {"values": []}, "mark": "point"},
      {"width": 331, "height": {"step": 16.96}, "data": {"name": "para"},
       "encoding": {"y": {"field": "line", "type": "ordinal", "axis": null}, "text": {"field": "text"}},
       "layer": [
         {"transform": [{"filter": "!datum.indent"}], "mark": {"type": "text", "align": "left", "x": 0, "font": "DejaVu Serif", "fontSize": 13.4}},
         {"transform": [{"filter": "datum.indent"}], "mark": {"type": "text", "align": "left", "x": 0, "dx": 16, "font": "DejaVu Serif", "fontSize": 13.4}}
       ]},
      {"width": 1, "height": 28.5, "data": {"values": []}, "mark": "point"},
      {"width": 331, "height": 17, "data": {"values": [{"t": "ACKNOWLEDGMENTS"}]},
       "mark": {"type": "text", "align": "center", "font": "DejaVu Serif", "fontSize": 11.5, "fontWeight": "bold"},
       "encoding": {"text": {"field": "t"}}},
      {"width": 1, "height": 7.2, "data": {"values": []}, "mark": "point"},
      {"width": 331, "height": {"step": 16.6}, "data": {"name": "ack"},
       "encoding": {"y": {"field": "line", "type": "ordinal", "axis": null}, "text": {"field": "text"}},
       "layer": [
         {"transform": [{"filter": "!datum.indent"}], "mark": {"type": "text", "align": "left", "x": 0, "font": "DejaVu Serif", "fontSize": 10.6}},
         {"transform": [{"filter": "datum.indent"}], "mark": {"type": "text", "align": "left", "x": 0, "dx": 16, "font": "DejaVu Serif", "fontSize": 10.6}}
       ]}
    ], "spacing": 0, "bounds": "flush"}
  ], "spacing": 0, "bounds": "flush"}
]
}
